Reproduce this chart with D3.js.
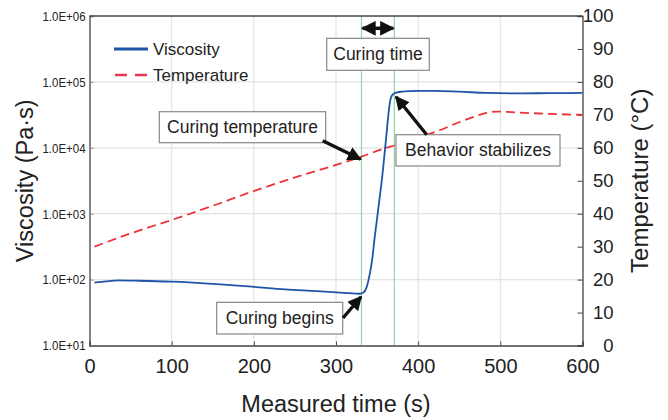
<!DOCTYPE html>
<html><head><meta charset="utf-8">
<script src="https://cdn.jsdelivr.net/npm/d3@7"></script>
<style>
html,body{margin:0;padding:0;background:#fff;}
svg{display:block;font-family:"Liberation Sans",Arial,Helvetica,sans-serif;}
</style></head>
<body>
<svg id="chart" width="668" height="420"></svg>
<script>
// ---- data ----
const viscTime = [6, 20, 35, 60, 100, 150, 198, 238, 277, 310, 329, 333, 337, 341, 344, 347, 350, 353, 356, 358, 360, 362, 364, 366, 368, 372, 380, 398, 420, 450, 484, 524, 560, 600];
const viscValue = [90, 94, 97, 96, 93, 86, 78, 71, 67, 63, 61, 63, 75, 120, 200, 430, 850, 1700, 3400, 5900, 10500, 19000, 34000, 52000, 62000, 68000, 71000, 73000, 73000, 71000, 68000, 67000, 67500, 68000];
const tempTime = [6, 50, 100, 150, 198, 254, 300, 331, 360, 371, 400, 427, 451, 470, 484, 495, 508, 530, 560, 600];
const tempValue = [30, 34, 38.1, 42.4, 46.7, 51.3, 54.8, 57.3, 59.9, 60.7, 63.1, 65.4, 67.9, 69.6, 70.7, 71.0, 70.9, 70.6, 70.3, 70.0];
const xTicks = [0, 100, 200, 300, 400, 500, 600];
const viscTicks = [1e1, 1e2, 1e3, 1e4, 1e5, 1e6];
const viscTickLabels = ["1.0E+01", "1.0E+02", "1.0E+03", "1.0E+04", "1.0E+05", "1.0E+06"];
const tempTicks = [0, 10, 20, 30, 40, 50, 60, 70, 80, 90, 100];
const curingStart = 331;
const curingEnd = 371;
const seriesNames = ["Viscosity", "Temperature"];
const axisTitles = {x: "Measured time (s)", left: "Viscosity (Pa·s)", right: "Temperature (°C)"};

// ---- layout ----
const L = 89.5, R = 582.5, T = 16, B = 345.5;
const svg = d3.select("#chart");
const x = d3.scaleLinear().domain([0, 600]).range([L, R]);
const yV = d3.scaleLog().domain([1e1, 1e6]).range([B, T]);
const yT = d3.scaleLinear().domain([0, 100]).range([B, T]);

const BLUE = "#1f55a6", RED = "#ec3438", GREEN = "#96d3a5", GRID = "#e3e3e3", AX = "#444";

// grid
const g = svg.append("g");
g.selectAll(".vg").data(xTicks.slice(1, -1)).join("line")
  .attr("x1", d => x(d)).attr("x2", d => x(d)).attr("y1", T).attr("y2", B)
  .attr("stroke", GRID).attr("stroke-width", 1.2);
g.selectAll(".hg").data(viscTicks.slice(1, -1)).join("line")
  .attr("y1", d => yV(d)).attr("y2", d => yV(d)).attr("x1", L).attr("x2", R)
  .attr("stroke", GRID).attr("stroke-width", 1.2);

// curing window lines
svg.selectAll(".cw").data([curingStart, curingEnd]).join("line")
  .attr("x1", d => x(d)).attr("x2", d => x(d)).attr("y1", T).attr("y2", B)
  .attr("stroke", GREEN).attr("stroke-width", 1.2);

// axes
const axB = d3.axisBottom(x).tickValues(xTicks).tickSize(-4).tickPadding(13).tickFormat(d3.format("d"));
const axL = d3.axisLeft(yV).tickValues(viscTicks).tickSize(-4).tickPadding(4).tickFormat((d, i) => viscTickLabels[i]);
const axR = d3.axisRight(yT).tickValues(tempTicks).tickSize(-5).tickPadding(7);

const gb = svg.append("g").attr("transform", `translate(0,${B})`).call(axB);
gb.selectAll("text").attr("font-size", 20).attr("fill", "#222").attr("dy", "0.72em");
const gl = svg.append("g").attr("transform", `translate(${L},0)`).call(axL);
gl.selectAll("text").attr("font-size", 13.5).attr("fill", "#222")
  .attr("textLength", 43).attr("lengthAdjust", "spacingAndGlyphs");
const gr = svg.append("g").attr("transform", `translate(${R},0)`).call(axR);
gr.selectAll("text").attr("font-size", 18.5).attr("fill", "#222")
  .attr("text-anchor", "end").attr("x", 31);
[gb, gl, gr].forEach(a => {
  a.select(".domain").attr("stroke", AX).attr("stroke-width", 1.3);
  a.selectAll(".tick line").attr("stroke", AX).attr("stroke-width", 1);
});
gl.selectAll(".tick line").attr("stroke", "#888");
// top border
svg.append("line").attr("x1", L).attr("x2", R).attr("y1", T).attr("y2", T)
  .attr("stroke", AX).attr("stroke-width", 1.3);

// series
const lineV = d3.line().x(d => x(d[0])).y(d => yV(d[1])).curve(d3.curveMonotoneX);
const lineT = d3.line().x(d => x(d[0])).y(d => yT(d[1])).curve(d3.curveMonotoneX);
svg.append("path").datum(tempTime.map((t, i) => [t, tempValue[i]]))
  .attr("d", lineT).attr("fill", "none").attr("stroke", RED).attr("stroke-width", 1.8)
  .attr("stroke-dasharray", "9,5");
svg.append("path").datum(viscTime.map((t, i) => [t, viscValue[i]]))
  .attr("d", lineV).attr("fill", "none").attr("stroke", BLUE).attr("stroke-width", 1.8);

// axis titles
svg.append("text").attr("x", (L + R) / 2).attr("y", 412).attr("text-anchor", "middle")
  .attr("font-size", 23.5).attr("fill", "#222").text(axisTitles.x);
svg.append("text").attr("transform", `translate(33,${(T + B) / 2}) rotate(-90)`).attr("text-anchor", "middle")
  .attr("font-size", 23.5).attr("fill", "#222").text(axisTitles.left);
svg.append("text").attr("transform", `translate(648,${(T + B) / 2}) rotate(-90)`).attr("text-anchor", "middle")
  .attr("font-size", 24).attr("fill", "#222").text(axisTitles.right);

// legend
const leg = svg.append("g");
leg.append("line").attr("x1", 114).attr("x2", 148).attr("y1", 49).attr("y2", 49)
  .attr("stroke", BLUE).attr("stroke-width", 3);
leg.append("line").attr("x1", 115).attr("x2", 150).attr("y1", 75).attr("y2", 75)
  .attr("stroke", "#ec3456").attr("stroke-width", 2.5).attr("stroke-dasharray", "12,8");
leg.selectAll("text").data(seriesNames).join("text")
  .attr("x", 153).attr("y", (d, i) => 54.5 + i * 26.5)
  .attr("font-size", 17).attr("fill", "#222").text(d => d);

// arrow marker
const defs = svg.append("defs");
defs.append("marker").attr("id", "ah").attr("viewBox", "0 0 10 10").attr("refX", 9).attr("refY", 5)
  .attr("markerWidth", 4.2).attr("markerHeight", 4.2).attr("markerUnits", "strokeWidth")
  .attr("orient", "auto-start-reverse")
  .append("path").attr("d", "M0,0 L10,5 L0,10 Z").attr("fill", "#111");

// annotation boxes
const boxes = [
  {label: "Curing time", x0: 326.7, y0: 38.3, w: 102.6, h: 32},
  {label: "Curing temperature", x0: 159.3, y0: 111.7, w: 166.4, h: 31},
  {label: "Behavior stabilizes", x0: 396, y0: 134.7, w: 164, h: 31.3},
  {label: "Curing begins", x0: 216.7, y0: 302.3, w: 126, h: 31.7}
];
const ann = svg.append("g");
boxes.forEach(b => {
  ann.append("rect").attr("x", b.x0).attr("y", b.y0).attr("width", b.w).attr("height", b.h)
    .attr("fill", "#fff").attr("stroke", "#888").attr("stroke-width", 1.2);
  ann.append("text").attr("x", b.x0 + b.w / 2).attr("y", b.y0 + b.h / 2 + 6)
    .attr("text-anchor", "middle").attr("font-size", 17.5).attr("fill", "#222").text(b.label);
});

// arrows (tails in px, tips at data points)
const arrows = [
  {x1: 322.7, y1: 140.7, x2: x(330), y2: yT(56.5)},
  {x1: 426.7, y1: 134.7, x2: x(373), y2: yV(66000) + 3},
  {x1: 343, y1: 318, x2: x(330.5), y2: yV(61) + 3}
];
arrows.forEach(a => {
  ann.append("line").attr("x1", a.x1).attr("y1", a.y1).attr("x2", a.x2).attr("y2", a.y2)
    .attr("stroke", "#111").attr("stroke-width", 3.4).attr("marker-end", "url(#ah)");
});
// double arrow for curing time
ann.append("line").attr("x1", x(curingStart) + 1).attr("x2", x(curingEnd) - 1).attr("y1", 28.3).attr("y2", 28.3)
  .attr("stroke", "#111").attr("stroke-width", 3.5)
  .attr("marker-start", "url(#ah)").attr("marker-end", "url(#ah)");
</script>
</body></html>
